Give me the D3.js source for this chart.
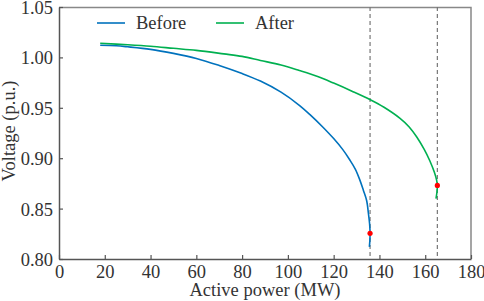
<!DOCTYPE html>
<html>
<head>
<meta charset="utf-8">
<script src="https://cdn.jsdelivr.net/npm/d3@7"></script>
<style>
  body { margin: 0; background: #fff; }
  svg { display: block; }
  svg text { font-family: "Liberation Serif", "Times New Roman", "DejaVu Serif", serif; }
</style>
</head>
<body>
<svg id="chart" width="484" height="301"></svg>
<script>
// Before: [active power MW, voltage p.u.]
const beforeData = [
  [18, 1.012], [25, 1.0115], [30, 1.0105], [40, 1.008], [50, 1.004], [60, 0.999],
  [70, 0.992], [80, 0.984], [88, 0.9765], [97, 0.9655], [105, 0.9525], [110, 0.9425],
  [115, 0.9315], [120, 0.9195], [124, 0.9085], [127, 0.8985], [129.5, 0.889], [131.5, 0.878],
  [133, 0.868], [134.4, 0.858], [135.2, 0.845], [135.7, 0.835], [135.9, 0.8255],
  [135.8, 0.818], [135.6, 0.812]
];
const afterData = [
  [18, 1.014], [30, 1.0125], [40, 1.011], [50, 1.009], [60, 1.007], [72, 1.0035],
  [80, 1.001], [88, 0.997], [97, 0.9925], [105, 0.987], [113, 0.981], [120, 0.9745],
  [128, 0.9665], [136, 0.958], [142, 0.9505], [149, 0.9395], [153, 0.931], [156.3, 0.921],
  [159.5, 0.909], [162, 0.8975], [164, 0.886], [165, 0.878], [165.3, 0.873],
  [165.1, 0.866], [164.7, 0.860]
];
const markPoints = [[135.9, 0.8255], [165.3, 0.873]];
const limitLines = [135.9, 165.3];
const xTicks = [0, 20, 40, 60, 80, 100, 120, 140, 160, 180];
const yTicks = [0.80, 0.85, 0.90, 0.95, 1.00, 1.05];
const seriesNames = ['Before', 'After'];
const seriesColors = ['#0072bd', '#00b050'];

const width = 484, height = 301;
const margin = { top: 7, right: 13, bottom: 42, left: 59 };
const innerW = width - margin.left - margin.right;
const innerH = height - margin.top - margin.bottom;
const fontSize = '18.5px';

const svg = d3.select('#chart');
const g = svg.append('g').attr('transform', `translate(${margin.left},${margin.top})`);

const x = d3.scaleLinear().domain([0, 180]).range([0, innerW]);
const y = d3.scaleLinear().domain([0.80, 1.05]).range([innerH, 0]);

// frame top/right
g.append('path')
  .attr('d', `M0,0.5H${innerW}V${innerH}`)
  .attr('fill', 'none')
  .attr('stroke', '#888')
  .attr('stroke-width', 1.5);

// dashed limit lines
g.selectAll('.limit')
  .data(limitLines)
  .enter()
  .append('line')
  .attr('x1', d => x(d)).attr('x2', d => x(d))
  .attr('y1', 0).attr('y2', innerH)
  .attr('stroke', '#777')
  .attr('stroke-width', 1.2)
  .attr('stroke-dasharray', '4,3');

// axes
const xAxis = g.append('g')
  .attr('transform', `translate(0,${innerH})`)
  .call(d3.axisBottom(x).tickValues(xTicks).tickSizeInner(-4).tickSizeOuter(0).tickPadding(6));
const yAxis = g.append('g')
  .call(d3.axisLeft(y).tickValues(yTicks).tickFormat(d3.format('.2f')).tickSizeInner(-4).tickSizeOuter(0).tickPadding(6));

[xAxis, yAxis].forEach(a => {
  a.attr('font-family', null).attr('font-size', null);
  a.select('.domain').attr('stroke', '#555').attr('stroke-width', 1.5);
  a.selectAll('.tick line').attr('stroke', '#555').attr('stroke-width', 1.2);
  a.selectAll('.tick text').attr('fill', '#333').style('font-size', fontSize);
});
yAxis.selectAll('.tick text').attr('dy', '0.35em');

// curves
const line = d3.line()
  .x(d => x(d[0]))
  .y(d => y(d[1]))
  .curve(d3.curveCatmullRom);

[beforeData, afterData].forEach((data, i) => {
  g.append('path')
    .datum(data)
    .attr('fill', 'none')
    .attr('stroke', seriesColors[i])
    .attr('stroke-width', 1.6)
    .attr('d', line);
});

// critical points
g.selectAll('.mark')
  .data(markPoints)
  .enter()
  .append('circle')
  .attr('cx', d => x(d[0]))
  .attr('cy', d => y(d[1]))
  .attr('r', 2.6)
  .attr('fill', '#ff0000');

// legend
const legendX = [38, 157];
seriesNames.forEach((name, i) => {
  const lg = g.append('g').attr('transform', `translate(${legendX[i]},16)`);
  lg.append('line').attr('x1', 0).attr('x2', 28).attr('y1', 0).attr('y2', 0)
    .attr('stroke', seriesColors[i]).attr('stroke-width', 1.6);
  lg.append('text').attr('x', 39).attr('y', 0).attr('dy', '0.35em')
    .attr('fill', '#333').style('font-size', fontSize).text(name);
});

// axis labels
svg.append('text')
  .attr('x', margin.left + innerW / 2)
  .attr('y', 296)
  .attr('text-anchor', 'middle')
  .attr('fill', '#333')
  .style('font-size', fontSize)
  .text('Active power (MW)');

svg.append('text')
  .attr('transform', `translate(15,${margin.top + innerH / 2 - 2}) rotate(-90)`)
  .attr('text-anchor', 'middle')
  .attr('fill', '#333')
  .style('font-size', fontSize)
  .text('Voltage (p.u.)');
</script>
</body>
</html>
